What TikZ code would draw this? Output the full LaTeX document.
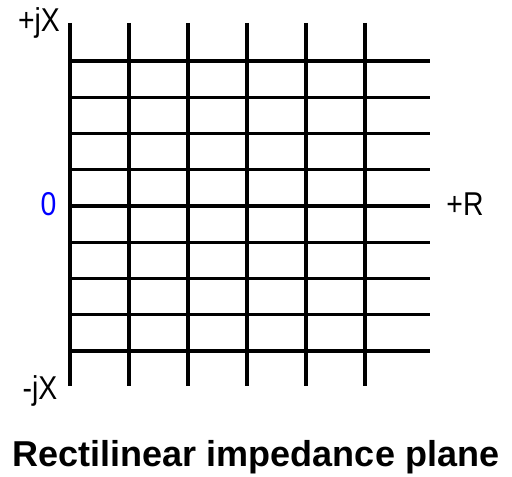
\documentclass[tikz,border=0pt]{standalone}
\usepackage{fontspec}
\setmainfont{Liberation Sans}
\newfontfamily\narrowfont[FakeStretch=0.86]{Liberation Sans}
\definecolor{zeroblue}{RGB}{0,0,255}
\tikzset{
  gridline/.style={line width=3.3bp,black},
  axislabel/.style={anchor=base,inner sep=0pt,font=\narrowfont\fontsize{33bp}{33bp}\selectfont},
  caption/.style={anchor=base,inner sep=0pt,font=\bfseries\fontsize{36bp}{36bp}\selectfont}
}
\begin{document}
\begin{tikzpicture}[x=1bp,y=-1bp]
\useasboundingbox (0,0) rectangle (512,477);
% grid of constant R and constant X
\foreach \i in {0,...,5}
  \draw[gridline] ({70+59*\i},23) -- ({70+59*\i},386);
\foreach \j in {0,...,8}
  \draw[gridline] (70,{61+36.25*\j}) -- (430,{61+36.25*\j});
% axis labels
\node[axislabel] (posx) at (39,32) {+jX};
\node[axislabel] (negx) at (40,399.5) {-jX};
\node[axislabel,text=zeroblue] (zero) at (48.5,215) {0};
\node[axislabel] (posr) at (465,215.5) {+R};
\node[caption] (title) at (256,466.5) {Rectilinear impedance plane};
\end{tikzpicture}
\end{document}
